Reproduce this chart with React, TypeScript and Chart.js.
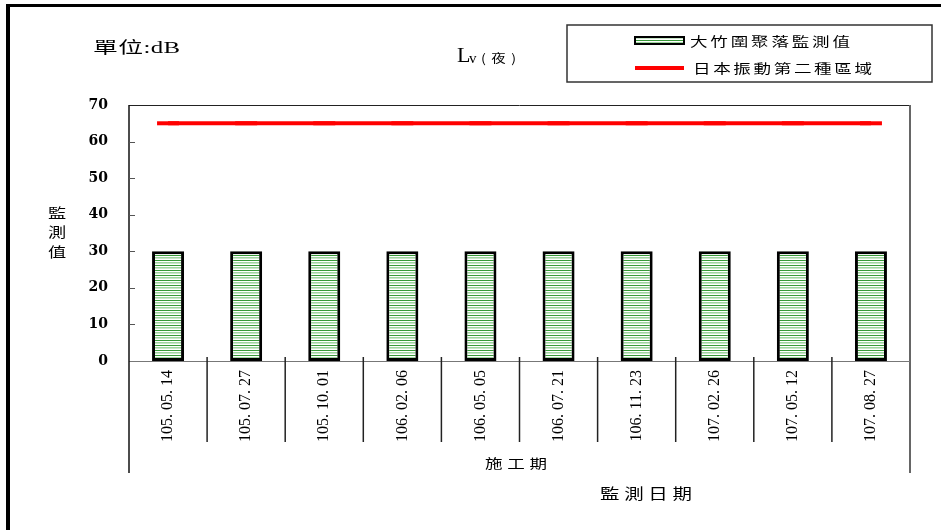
import { useEffect, useRef } from 'react';
import { Chart, registerables } from 'chart.js';

Chart.register(...registerables);

const categories = [
  '105. 05. 14', '105. 07. 27', '105. 10. 01', '106. 02. 06', '106. 05. 05',
  '106. 07. 21', '106. 11. 23', '107. 02. 26', '107. 05. 12', '107. 08. 27',
];
const measured = [30, 30, 30, 30, 30, 30, 30, 30, 30, 30];
const standard = [65, 65, 65, 65, 65, 65, 65, 65, 65, 65];
const yMin = 0;
const yMax = 70;
const yStep = 10;
const seriesLabels = ['大竹圍聚落監測值', '日本振動第二種區域'];
const unitText = '單位:dB';
const titleMain = 'L';
const titleSub = 'v';
const titleParen = '(夜)';
const yTitle = '監測值';
const xSubTitle = '施工期';
const xTitle = '監測日期';

const CJK = "'Noto Sans CJK TC'";

function makePattern(): CanvasPattern | string {
  const c = document.createElement('canvas');
  c.width = 4;
  c.height = 5;
  const g = c.getContext('2d');
  if (!g) return '#b0dcb0';
  const rows = ['#389a38', '#ffffff', '#9fd49f', '#c8e6c8', '#ffffff'];
  rows.forEach((col, i) => {
    g.fillStyle = col;
    g.fillRect(0, i, 4, 1);
  });
  const p = g.createPattern(c, 'repeat');
  return p || '#b0dcb0';
}

function drawSpread(
  ctx: CanvasRenderingContext2D,
  text: string,
  left: number,
  right: number,
  yc: number,
  font: string,
  sx: number
) {
  ctx.save();
  ctx.font = font;
  ctx.fillStyle = '#000';
  ctx.textAlign = 'left';
  ctx.textBaseline = 'middle';
  const n = [...text].length;
  const w = ctx.measureText(text).width;
  const s = n > 1 ? Math.max(0, ((right - left) / sx - w) / (n - 1)) : 0;
  (ctx as any).letterSpacing = s + 'px';
  ctx.translate(left, yc);
  ctx.scale(sx, 1);
  ctx.fillText(text, 0, 0);
  ctx.restore();
}

function line(ctx: CanvasRenderingContext2D, x1: number, y1: number, x2: number, y2: number) {
  ctx.beginPath();
  ctx.moveTo(x1, y1);
  ctx.lineTo(x2, y2);
  ctx.stroke();
}

export default function App() {
  const ref = useRef<HTMLCanvasElement | null>(null);

  useEffect(() => {
    document.body.style.margin = '0';
    const canvas = ref.current;
    if (!canvas) return;
    const pattern = makePattern();

    const framePlugin = {
      id: 'framePlugin',
      beforeDatasetsDraw(chart: any) {
        const { ctx, chartArea: a, scales } = chart;
        const x = scales.x;
        const y = scales.y;
        ctx.save();
        // outer frame
        ctx.fillStyle = '#000';
        ctx.fillRect(6, 4, 4, 526);
        ctx.fillRect(6, 4, 935, 3);
        // plot top
        ctx.strokeStyle = '#222';
        ctx.lineWidth = 1;
        line(ctx, a.left, a.top + 0.5, a.right, a.top + 0.5);
        // right edge
        ctx.strokeStyle = '#666';
        ctx.lineWidth = 2;
        line(ctx, a.right, a.top, a.right, 473);
        // x axis line
        ctx.strokeStyle = '#777';
        ctx.lineWidth = 1;
        line(ctx, a.left, a.bottom + 0.5, a.right, a.bottom + 0.5);
        // left axis
        ctx.strokeStyle = '#111';
        ctx.lineWidth = 1.5;
        line(ctx, a.left, a.top, a.left, 473);
        // inner y ticks
        ctx.strokeStyle = '#555';
        ctx.lineWidth = 1;
        y.ticks.forEach((t: any) => {
          if (t.value <= yMin || t.value >= yMax) return;
          const py = Math.round(y.getPixelForValue(t.value)) + 0.5;
          line(ctx, a.left, py, a.left + 6, py);
        });
        // category separators
        ctx.strokeStyle = '#222';
        ctx.lineWidth = 1.5;
        for (let i = 1; i < categories.length; i++) {
          const px = x.getPixelForValue(i - 0.5);
          line(ctx, px, a.bottom - 4, px, 442);
        }
        ctx.restore();
      },
      afterDraw(chart: any) {
        const { ctx } = chart;
        ctx.save();
        // unit text
        drawSpread(ctx, unitText, 93, 180, 49, `16px 'Liberation Serif', ${CJK}`, 1.55);
        // title Lv(夜)
        ctx.fillStyle = '#000';
        ctx.textAlign = 'left';
        ctx.textBaseline = 'alphabetic';
        ctx.font = "22px 'Liberation Serif'";
        ctx.fillText(titleMain, 457, 62);
        ctx.font = "15px 'Liberation Serif'";
        ctx.fillText(titleSub, 469, 63);
        ctx.restore();
        drawSpread(ctx, titleParen, 481, 516, 58, `12px ${CJK}`, 1.2);

        // legend box
        ctx.save();
        ctx.strokeStyle = '#333';
        ctx.lineWidth = 1.5;
        ctx.strokeRect(567, 25, 365, 57);
        // swatch 1
        ctx.fillStyle = pattern as any;
        ctx.fillRect(635, 37, 49, 7);
        ctx.strokeStyle = '#000';
        ctx.lineWidth = 2;
        ctx.strokeRect(635, 37, 49, 7);
        // swatch 2
        ctx.strokeStyle = '#ff0000';
        ctx.lineWidth = 4;
        line(ctx, 635, 68, 684, 68);
        ctx.restore();
        drawSpread(ctx, seriesLabels[0], 690, 850, 41, `13px ${CJK}`, 1.35);
        drawSpread(ctx, seriesLabels[1], 693, 872, 68, `13px ${CJK}`, 1.35);

        // y title, vertical
        const ys = [213, 232, 252];
        [...yTitle].forEach((ch, i) => {
          ctx.save();
          ctx.font = `14px ${CJK}`;
          ctx.fillStyle = '#000';
          ctx.textAlign = 'center';
          ctx.textBaseline = 'middle';
          ctx.translate(57, ys[i]);
          ctx.scale(1.3, 1);
          ctx.fillText(ch, 0, 0);
          ctx.restore();
        });

        // x titles
        drawSpread(ctx, xSubTitle, 485, 547, 463, `13px ${CJK}`, 1.35);
        drawSpread(ctx, xTitle, 600, 692, 493, `15px ${CJK}`, 1.3);
      },
    };

    const chart = new Chart(canvas, {
      type: 'bar',
      data: {
        labels: categories,
        datasets: [
          {
            type: 'line',
            label: seriesLabels[1],
            data: standard,
            borderColor: '#ff0000',
            backgroundColor: '#ff0000',
            borderWidth: 4,
            pointStyle: 'line',
            pointRadius: 11,
            pointBorderWidth: 4,
            pointBorderColor: '#ff0000',
            pointHoverRadius: 11,
            fill: false,
            tension: 0,
          } as any,
          {
            type: 'bar',
            label: seriesLabels[0],
            data: measured,
            backgroundColor: pattern as any,
            borderColor: '#000',
            borderWidth: 3,
            borderSkipped: false,
            barPercentage: 0.41,
            categoryPercentage: 1,
          } as any,
        ],
      },
      options: {
        responsive: false,
        animation: false,
        devicePixelRatio: 1,
        events: [],
        layout: { padding: { top: 105, right: 31, left: 0, bottom: 0 } },
        plugins: {
          legend: { display: false },
          title: { display: false },
          tooltip: { enabled: false },
        },
        scales: {
          x: {
            type: 'category',
            offset: true,
            grid: { display: false, drawTicks: false, drawOnChartArea: false },
            border: { display: false },
            ticks: {
              autoSkip: false,
              minRotation: 90,
              maxRotation: 90,
              padding: 9,
              color: '#000',
              font: { family: "'Liberation Serif'", size: 16 },
            },
            afterFit: (s: any) => {
              s.height = 169;
            },
          },
          y: {
            min: yMin,
            max: yMax,
            grid: { display: false, drawTicks: false, drawOnChartArea: false },
            border: { display: false },
            ticks: {
              stepSize: yStep,
              padding: 21,
              color: '#000',
              font: { family: "'DejaVu Serif'", size: 14, weight: 'bold' },
            },
            afterFit: (s: any) => {
              s.width = 129;
            },
          },
        },
      },
      plugins: [framePlugin],
    } as any);

    return () => {
      chart.destroy();
    };
  }, []);

  return (
    <div style={{ width: 941, height: 530, position: 'relative', background: '#fff' }}>
      <canvas ref={ref} width={941} height={530} style={{ display: 'block' }} />
    </div>
  );
}
